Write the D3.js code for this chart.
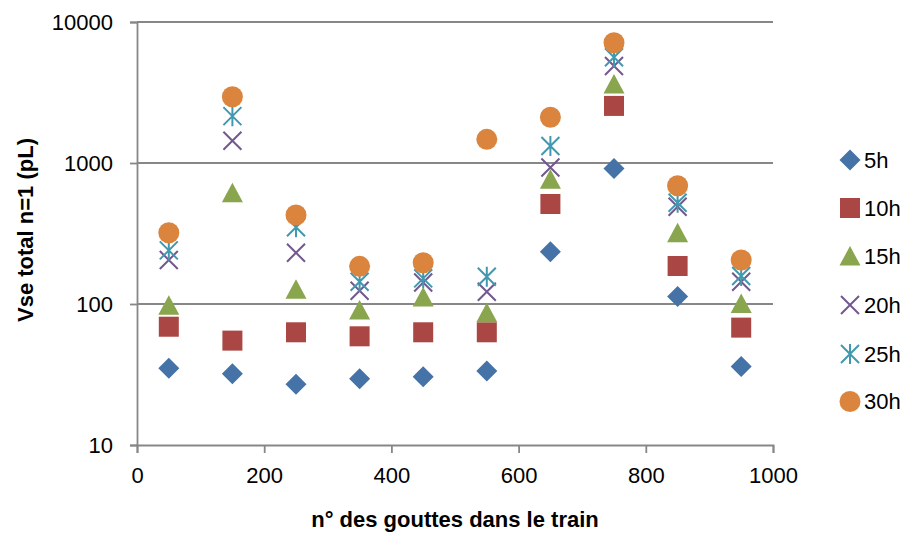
<!DOCTYPE html>
<html><head><meta charset="utf-8">
<script src="https://d3js.org/d3.v7.min.js"></script>
<style>
body{margin:0;background:#fff;}
text{font-family:"Liberation Sans",Arial,sans-serif;}
</style></head>
<body><svg id="c" width="908" height="533"></svg>
<script>
const xValues = [50,150,250,350,450,550,650,750,850,950];
const seriesNames = ["5h","10h","15h","20h","25h","30h"];
const v5h  = [35, 32, 27, 29.5, 30.5, 33.5, 235, 915, 113, 36];
const v10h = [69, 55, 63, 59, 63, 63, 512, 2540, 186, 68];
const v15h = [97, 610, 126, 90, 111, 86, 760, 3600, 317, 100];
const v20h = [205, 1440, 231, 124, 142, 122, 930, 4870, 490, 144];
const v25h = [240, 2150, 350, 144, 152, 156, 1320, 5620, 523, 158];
const v30h = [320, 2950, 428, 185, 196, 1472, 2110, 7130, 690, 205];
const xTicks = [0,200,400,600,800,1000];
const yTicks = [10,100,1000,10000];
const xTitle = "n° des gouttes dans le train";
const yTitle = "Vse total n=1 (pL)";

const allValues = [v5h,v10h,v15h,v20h,v25h,v30h];
const colors = ["#4572A7","#AA4643","#89A54E","#71588F","#4198AF","#DB843D"];
const shapes = ["diamond","square","triangle","x","star","circle"];

const svg = d3.select("#c");
const L=137, R=773, T=22, B=445;
const x = d3.scaleLinear().domain([0,1000]).range([L,R]);
const y = d3.scaleLog().domain([10,10000]).range([B,T]);
const grid="#878787";

// gridlines
svg.append("g").selectAll("line").data(yTicks.filter(d=>d>10)).join("line")
  .attr("x1",L).attr("x2",R).attr("y1",d=>y(d)).attr("y2",d=>y(d))
  .attr("stroke",grid).attr("stroke-width",1.8);

// axes
const yAxis = svg.append("g").attr("transform",`translate(${L},0)`)
  .call(d3.axisLeft(y).tickValues(yTicks).tickFormat(d3.format("d")).tickSize(7).tickPadding(17));
const xAxis = svg.append("g").attr("transform",`translate(0,${B})`)
  .call(d3.axisBottom(x).tickValues(xTicks).tickFormat(d3.format("d")).tickSize(8).tickPadding(14));
[yAxis,xAxis].forEach(g=>{
  g.select(".domain").attr("stroke",grid).attr("stroke-width",1.8);
  g.selectAll(".tick line").attr("stroke",grid).attr("stroke-width",1.8);
  g.selectAll(".tick text").attr("fill","#000").style("font-size","22px")
    .style("font-family","'Liberation Sans',Arial,sans-serif");
});

function drawMarker(g, shape, color, cx, cy){
  if(shape==="diamond"){
    g.append("path").attr("d",`M${cx},${cy-10.5}L${cx+10.5},${cy}L${cx},${cy+10.5}L${cx-10.5},${cy}Z`).attr("fill",color);
  } else if(shape==="square"){
    g.append("rect").attr("x",cx-10).attr("y",cy-10).attr("width",20).attr("height",20).attr("fill",color);
  } else if(shape==="triangle"){
    g.append("path").attr("d",`M${cx},${cy-10.5}L${cx+10.5},${cy+9}L${cx-10.5},${cy+9}Z`).attr("fill",color);
  } else if(shape==="x"){
    g.append("path").attr("d",`M${cx-9},${cy-9}L${cx+9},${cy+9}M${cx-9},${cy+9}L${cx+9},${cy-9}`)
      .attr("stroke",color).attr("stroke-width",2).attr("fill","none");
  } else if(shape==="star"){
    g.append("path").attr("d",`M${cx-9},${cy-9}L${cx+9},${cy+9}M${cx-9},${cy+9}L${cx+9},${cy-9}M${cx},${cy-10}L${cx},${cy+10}`)
      .attr("stroke",color).attr("stroke-width",2).attr("fill","none");
  } else {
    g.append("circle").attr("cx",cx).attr("cy",cy).attr("r",10.5).attr("fill",color);
  }
}

allValues.forEach((vals,i)=>{
  const g = svg.append("g");
  vals.forEach((v,j)=>drawMarker(g, shapes[i], colors[i], x(xValues[j]), y(v)));
});

// legend
const legY = [160,208,256.5,305,354,401.5];
seriesNames.forEach((n,i)=>{
  const g = svg.append("g");
  drawMarker(g, shapes[i], colors[i], 850, legY[i]);
  g.append("text").attr("x",864).attr("y",legY[i]).attr("dy","0.36em")
    .style("font-size","22px").attr("fill","#000").text(n);
});

// titles
svg.append("text").attr("x",455).attr("y",527).attr("text-anchor","middle")
  .style("font-size","22px").style("font-weight","bold").text(xTitle);
svg.append("text").attr("transform","translate(33,230) rotate(-90)").attr("text-anchor","middle")
  .style("font-size","22px").style("font-weight","bold").text(yTitle);
</script></body></html>
